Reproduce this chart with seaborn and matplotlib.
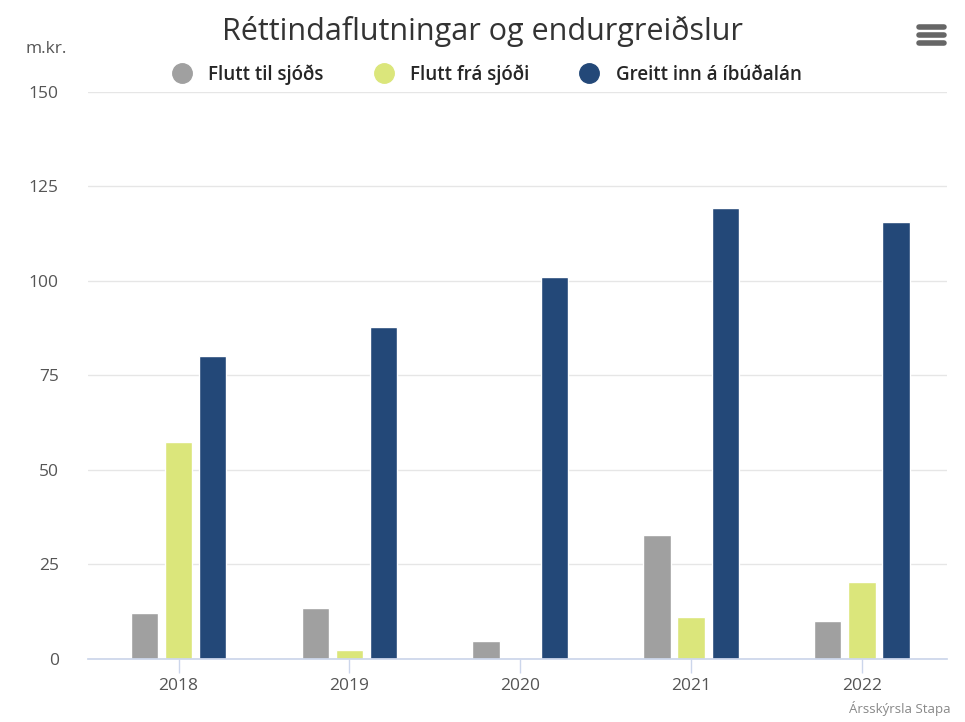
import pandas as pd
import numpy as np
import matplotlib
matplotlib.use("Agg")
import matplotlib.pyplot as plt
import seaborn as sns
from matplotlib.lines import Line2D

ar = ["2018", "2019", "2020", "2021", "2022"]
flutt_til = [12.2, 13.5, 4.8, 32.8, 10.1]
flutt_fra = [57.4, 2.4, 0.0, 11.1, 20.4]
greitt_inn = [80.2, 87.8, 101.0, 119.3, 115.6]

flokkar = ["Flutt til sjóðs", "Flutt frá sjóði", "Greitt inn á íbúðalán"]
litir = ["#a0a0a0", "#dbe67b", "#234878"]

df = pd.DataFrame({
    "Ár": ar * 3,
    "Flokkur": [flokkar[0]] * 5 + [flokkar[1]] * 5 + [flokkar[2]] * 5,
    "m.kr.": flutt_til + flutt_fra + greitt_inn,
})

sns.set_theme(style="white")
plt.rcParams["font.family"] = ["Open Sans", "DejaVu Sans"]

fig = plt.figure(figsize=(9.65, 7.22), dpi=100)
ax = fig.add_axes([0.0912, 0.0873, 0.8905, 0.7853])

sns.barplot(data=df, x="Ár", y="m.kr.", hue="Flokkur", hue_order=flokkar,
            palette=litir, saturation=1, width=0.6, gap=0.2, edgecolor="white",
            linewidth=1, ax=ax, legend=False, zorder=3)

ax.set_ylim(0, 150)
ax.set_xlim(-0.53, 4.5)
ax.set_yticks([0, 25, 50, 75, 100, 125, 150])
ax.yaxis.grid(True, color="#e6e6e6", linewidth=1, zorder=0)
ax.set_xlabel("")
ax.set_ylabel("")
for s in ["top", "right", "left"]:
    ax.spines[s].set_visible(False)
ax.spines["bottom"].set_color("#ccd6eb")
ax.spines["bottom"].set_zorder(4)
ax.tick_params(axis="x", colors="#ccd6eb", length=10, width=1, direction="out",
               bottom=True, labelcolor="#555555", labelsize=12.5, pad=4)
ax.tick_params(axis="y", length=0, labelcolor="#555555", labelsize=12.5, pad=21)
for lbl in ax.get_yticklabels():
    lbl.set_horizontalalignment("right")

fig.text(0.5, 0.957, "Réttindaflutningar og endurgreiðslur", ha="center", va="center",
         fontsize=22, color="#333333")
fig.text(0.026, 0.932, "m.kr.", ha="left", va="center", fontsize=12.5, color="#555555")
fig.text(0.985, 0.008, "Ársskýrsla Stapa", ha="right", va="bottom", fontsize=9.5, color="#888888")

handles = [Line2D([0], [0], marker="o", linestyle="", markersize=14,
                  markerfacecolor=c, markeredgecolor=c) for c in litir]
fig.legend(handles, flokkar, loc="center", bbox_to_anchor=(0.5, 0.897), ncol=3,
           frameon=False, handletextpad=0.4, columnspacing=2.2,
           prop={"weight": "semibold", "size": 13.5})

# valmyndartakki
for yy in [0.963, 0.952, 0.941]:
    fig.add_artist(Line2D([0.952, 0.978], [yy, yy], color="#666666", linewidth=4,
                          solid_capstyle="round", transform=fig.transFigure))

fig.savefig("out.png", dpi=100)
